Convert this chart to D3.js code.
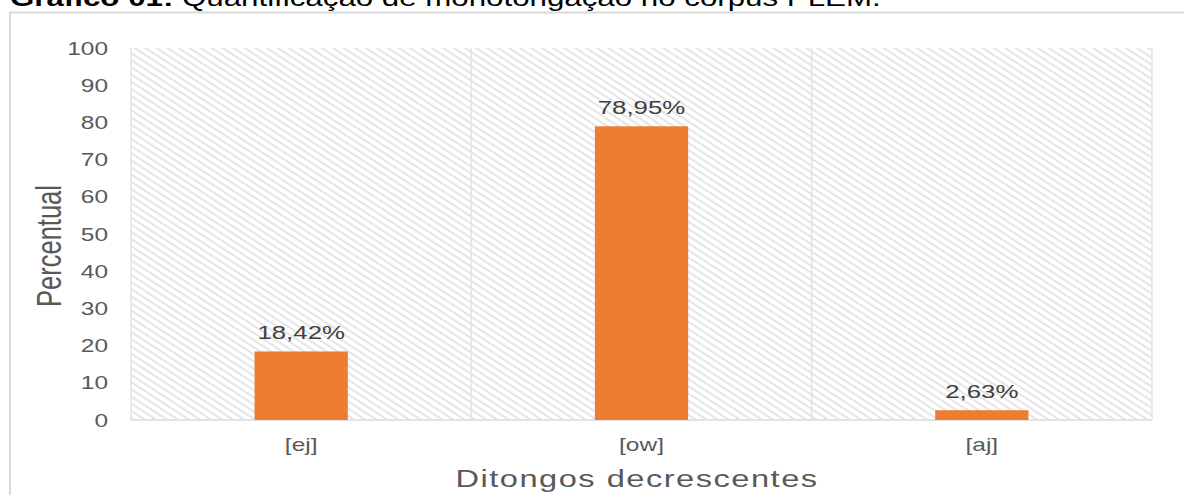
<!DOCTYPE html>
<html>
<head>
<meta charset="utf-8">
<script src="https://cdn.jsdelivr.net/npm/d3@7"></script>
<style>
  html, body { margin: 0; padding: 0; background: #fff; }
  svg { display: block; }
  text { font-family: "Liberation Sans", Arial, sans-serif; }
</style>
</head>
<body>
<svg id="chart" width="1184" height="495"></svg>
<script>
// Chart data
const categories = ["[ej]", "[ow]", "[aj]"];
const values = [18.42, 78.95, 2.63];
const valueLabels = ["18,42%", "78,95%", "2,63%"];
const yTicks = [0, 10, 20, 30, 40, 50, 60, 70, 80, 90, 100];

const svg = d3.select("#chart");
const W = 1184, H = 495;
const STRETCH = 1.36; // horizontal widening of the type

const plot = { left: 131, right: 1152, top: 48, bottom: 420 };

const x = d3.scaleBand().domain(categories).range([plot.left, plot.right]).paddingInner(0).paddingOuter(0);
const y = d3.scaleLinear().domain([0, 100]).range([plot.bottom, plot.top]);

// Draws a horizontally widened text at (px, py)
function wideText(g, px, py, str, opts) {
  const t = g.append("text")
    .attr("transform", `translate(${px},${py}) scale(${STRETCH},1)` + (opts.rotate ? ` rotate(${opts.rotate})` : ""))
    .attr("text-anchor", opts.anchor || "middle")
    .attr("font-size", opts.size)
    .attr("fill", opts.fill || "#595959")
    .attr("font-weight", opts.weight || "normal");
  if (opts.spacing) t.attr("letter-spacing", opts.spacing);
  t.text(str);
  return t;
}

// Caption above the chart frame
const cap = svg.append("text")
  .attr("transform", `translate(10,6) scale(1.36,1)`)
  .attr("font-size", 23)
  .attr("fill", "#000");
cap.append("tspan").attr("font-weight", "bold").text("Gráfico 01:");
cap.append("tspan").text(" Quantificação de monotongação no corpus PLEM.");

// Outer chart frame (top and left edges visible)
svg.append("rect")
  .attr("x", 10).attr("y", 12.5)
  .attr("width", W + 20).attr("height", H + 20)
  .attr("fill", "#fff")
  .attr("stroke", "#d9d9d9")
  .attr("stroke-width", 2);

// Diagonal hatch fill of the plot area
const defs = svg.append("defs");
const pat = defs.append("pattern")
  .attr("id", "hatch")
  .attr("patternUnits", "userSpaceOnUse")
  .attr("width", 6).attr("height", 6)
  .attr("patternTransform", "rotate(33)");
pat.append("rect").attr("width", 6).attr("height", 6).attr("fill", "#fff");
pat.append("line")
  .attr("x1", 0).attr("y1", 3).attr("x2", 6).attr("y2", 3)
  .attr("stroke", "#e2e2e2").attr("stroke-width", 1.8);

svg.append("rect")
  .attr("x", plot.left).attr("y", plot.top)
  .attr("width", plot.right - plot.left).attr("height", plot.bottom - plot.top)
  .attr("fill", "url(#hatch)");

// Vertical separators between categories
const bounds = categories.map(c => x(c)).concat([plot.right]);
svg.append("g").selectAll("line").data(bounds).join("line")
  .attr("x1", d => d).attr("x2", d => d)
  .attr("y1", plot.top).attr("y2", plot.bottom)
  .attr("stroke", "#e3e3e3").attr("stroke-width", 1.5);

// Baseline
svg.append("line")
  .attr("x1", plot.left).attr("x2", plot.right)
  .attr("y1", plot.bottom).attr("y2", plot.bottom)
  .attr("stroke", "#e3e3e3").attr("stroke-width", 2);

// Bars
const barFrac = 0.274;
const bw = x.bandwidth() * barFrac;
svg.append("g").selectAll("rect").data(values).join("rect")
  .attr("x", (d, i) => x(categories[i]) + x.bandwidth() / 2 - bw / 2)
  .attr("y", d => y(d))
  .attr("width", bw)
  .attr("height", d => y(0) - y(d))
  .attr("fill", "#ED7D31");

// Value labels
const lab = svg.append("g");
values.forEach((v, i) => {
  wideText(lab, x(categories[i]) + x.bandwidth() / 2, y(v) - 12, valueLabels[i], { size: 19, fill: "#404040" });
});

// Y-axis tick labels
const yg = svg.append("g");
yTicks.forEach(t => {
  wideText(yg, 108, y(t) + 6.5, String(t), { size: 18, anchor: "end" });
});

// X-axis category labels
const xg = svg.append("g");
categories.forEach(c => {
  wideText(xg, x(c) + x.bandwidth() / 2, 451, c, { size: 18 });
});

// Axis titles
wideText(svg, 61, 246, "Percentual", { size: 25.5, rotate: -90 });
wideText(svg, 637, 487, "Ditongos decrescentes", { size: 24, spacing: 1.1 });
</script>
</body>
</html>
